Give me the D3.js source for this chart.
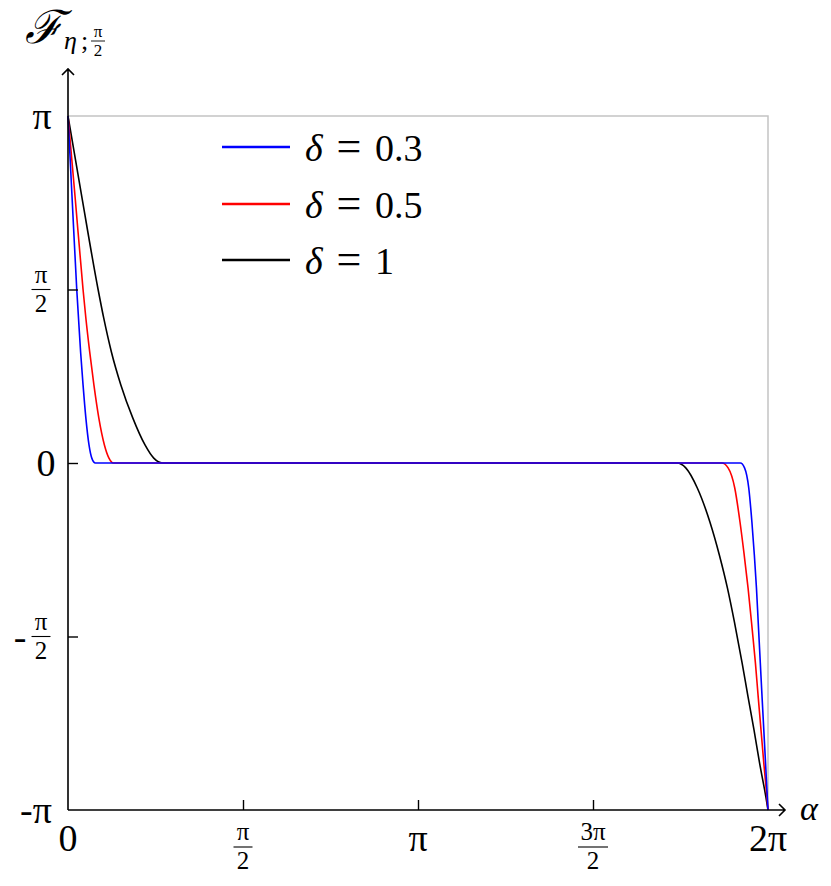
<!DOCTYPE html>
<html>
<head>
<meta charset="utf-8">
<script src="https://cdn.jsdelivr.net/npm/d3@7"></script>
<style>
  body { margin: 0; background: #fff; }
  text { font-family: "Liberation Serif", "DejaVu Serif", serif; fill: #000; }
</style>
</head>
<body>
<svg class="chart"></svg>
<script>
// F_{eta;pi/2} against alpha, three delta values
// alpha and F are both in units of pi

// delta = 0.3
var blueAlpha = [0, 0.012, 0.025, 0.030, 0.036, 0.043, 0.051, 0.060, 0.068, 0.078,
                 1.921, 1.933, 1.945, 1.954, 1.961, 1.967, 1.972, 1.978, 1.983, 1.988, 1.993, 1.998, 2];
var blueValue = [1, 0.758, 0.50, 0.418, 0.320, 0.225, 0.130, 0.052, 0.014, 0,
                 0, -0.014, -0.072, -0.170, -0.265, -0.360, -0.458, -0.576, -0.674, -0.769, -0.865, -0.963, -1];

// delta = 0.5
var redAlpha = [0, 0.021, 0.043, 0.051, 0.062, 0.074, 0.088, 0.104, 0.117, 0.130,
                1.868, 1.886, 1.905, 1.920, 1.932, 1.943, 1.955, 1.964, 1.972, 1.980, 1.988, 1.997, 2];
var redValue = [1, 0.758, 0.50, 0.418, 0.320, 0.225, 0.130, 0.052, 0.014, 0,
                0, -0.014, -0.072, -0.170, -0.265, -0.360, -0.481, -0.576, -0.674, -0.769, -0.865, -0.963, -1];

// delta = 1
var blackAlpha = [0, 0.041, 0.086, 0.102, 0.124, 0.151, 0.185, 0.220, 0.245, 0.270,
                  1.740, 1.765, 1.798, 1.834, 1.861, 1.884, 1.904, 1.926, 1.943, 1.960, 1.976, 1.994, 2];
var blackValue = [1, 0.758, 0.50, 0.418, 0.320, 0.225, 0.130, 0.052, 0.014, 0,
                  0, -0.014, -0.072, -0.170, -0.265, -0.360, -0.458, -0.576, -0.674, -0.769, -0.865, -0.963, -1];

var seriesNames = ["0.3", "0.5", "1"];
var seriesColors = ["#0000ff", "#ff0000", "#000000"];

// tick values (units of pi) and their labels as [whole] or [sign, numerator, denominator]
var xTickValues = [0, 0.5, 1, 1.5, 2];
var xTickLabels = [["0"], ["", "π", "2"], ["π"], ["", "3π", "2"], ["2π"]];
var yTickValues = [-1, -0.5, 0, 0.5, 1];
var yTickLabels = [["-π"], ["-", "π", "2"], ["0"], ["", "π", "2"], ["π"]];

var width = 831, height = 886;

var svg = d3.select(".chart")
    .attr("width", width)
    .attr("height", height);

var x = d3.scaleLinear().domain([0, 2]).range([68, 768]);
var y = d3.scaleLinear().domain([-1, 1]).range([810, 116]);

// grey frame on top and right
svg.append("path")
    .attr("d", "M" + x(0) + "," + y(1) + "H" + x(2) + "V" + y(-1))
    .attr("fill", "none")
    .attr("stroke", "#c4c4c4")
    .attr("stroke-width", 1.5);

// curves
var line = d3.line()
    .x(function(d) { return x(d[0]); })
    .y(function(d) { return y(d[1]); })
    .curve(d3.curveMonotoneX);

var series = [
    d3.zip(blueAlpha, blueValue),
    d3.zip(redAlpha, redValue),
    d3.zip(blackAlpha, blackValue)
];
// black first so blue and red sit on top
[2, 1, 0].forEach(function(i) {
    svg.append("path")
        .datum(series[i])
        .attr("d", line)
        .attr("fill", "none")
        .attr("stroke", seriesColors[i])
        .attr("stroke-width", 1.6);
});

// axes: inward tick marks only, labels drawn by hand (fractions)
var xAxis = d3.axisBottom(x)
    .tickValues(xTickValues.slice(1, 4))
    .tickSize(-10)
    .tickFormat("");
svg.append("g")
    .attr("transform", "translate(0," + y(-1) + ")")
    .call(xAxis)
    .call(function(g) { g.select(".domain").remove(); })
    .selectAll("line").attr("stroke-width", 1.4);

var yAxis = d3.axisLeft(y)
    .tickValues(yTickValues.slice(1, 4))
    .tickSize(-10)
    .tickFormat("");
svg.append("g")
    .attr("transform", "translate(" + x(0) + ",0)")
    .call(yAxis)
    .call(function(g) { g.select(".domain").remove(); })
    .selectAll("line").attr("stroke-width", 1.4);

// axis lines with open arrow heads
svg.append("path")
    .attr("d", "M" + x(0) + "," + y(-1) + "H785 M779,804 L785,810 L779,816")
    .attr("fill", "none").attr("stroke", "#000").attr("stroke-width", 1.6);
svg.append("path")
    .attr("d", "M" + x(0) + "," + y(-1) + "V69 M62,75 L68,69 L74,75")
    .attr("fill", "none").attr("stroke", "#000").attr("stroke-width", 1.6);

// label helper: plain text or fraction
function label(cx, cy, lab, big, small) {
    if (lab.length == 1) {
        svg.append("text")
            .attr("x", cx).attr("y", cy)
            .attr("text-anchor", "middle")
            .attr("dominant-baseline", "central")
            .style("font-size", big + "px")
            .text(lab[0]);
        return;
    }
    var w = lab[1].length > 1 ? 30 : 19;
    svg.append("text")
        .attr("x", cx).attr("y", cy - 7)
        .attr("text-anchor", "middle")
        .style("font-size", small + "px")
        .text(lab[1]);
    svg.append("line")
        .attr("x1", cx - w / 2).attr("x2", cx + w / 2)
        .attr("y1", cy).attr("y2", cy)
        .attr("stroke", "#000").attr("stroke-width", 1.1);
    svg.append("text")
        .attr("x", cx).attr("y", cy + 22)
        .attr("text-anchor", "middle")
        .style("font-size", small + "px")
        .text(lab[2]);
    if (lab[0]) {
        svg.append("text")
            .attr("x", cx - w / 2 - 5).attr("y", cy)
            .attr("text-anchor", "end")
            .attr("dominant-baseline", "central")
            .style("font-size", big + "px")
            .text(lab[0]);
    }
}

xTickValues.forEach(function(v, i) {
    var lab = xTickLabels[i];
    label(x(v), lab.length == 1 ? y(-1) + 28 : y(-1) + 37, lab, 38, 25);
});
yTickValues.forEach(function(v, i) {
    var lab = yTickLabels[i];
    var cx = lab.length == 1 ? (v < 0 ? 36 : (v == 0 ? 46 : 42)) : 41;
    label(cx, y(v), lab, 38, 25);
});

// axis titles
svg.append("text")
    .attr("x", 809).attr("y", 820)
    .attr("text-anchor", "middle")
    .style("font-size", "34px")
    .style("font-style", "italic")
    .text("α");

svg.append("text")
    .attr("x", 25).attr("y", 43)
    .style("font-size", "46px")
    .style("font-family", "DejaVu Serif")
    .style("font-style", "italic")
    .text("ℱ");
svg.append("text")
    .attr("x", 64).attr("y", 49)
    .style("font-size", "26px")
    .style("font-style", "italic")
    .text("η");
svg.append("text")
    .attr("x", 81).attr("y", 49)
    .style("font-size", "26px")
    .text(";");
svg.append("text")
    .attr("x", 98).attr("y", 37)
    .attr("text-anchor", "middle")
    .style("font-size", "17px")
    .text("π");
svg.append("line")
    .attr("x1", 91).attr("x2", 105).attr("y1", 41).attr("y2", 41)
    .attr("stroke", "#000").attr("stroke-width", 0.9);
svg.append("text")
    .attr("x", 98).attr("y", 56)
    .attr("text-anchor", "middle")
    .style("font-size", "17px")
    .text("2");

// legend
var legendY = [147, 204, 260];
seriesNames.forEach(function(name, i) {
    svg.append("line")
        .attr("x1", 222).attr("x2", 290)
        .attr("y1", legendY[i]).attr("y2", legendY[i])
        .attr("stroke", seriesColors[i])
        .attr("stroke-width", 2.4);
    var g = svg.append("g").style("font-size", "38px");
    g.append("text")
        .attr("x", 305).attr("y", legendY[i] + 14)
        .style("font-style", "italic").text("δ");
    g.append("text")
        .attr("x", 349).attr("y", legendY[i] + 14)
        .attr("text-anchor", "middle")
        .style("font-size", "44px")
        .text("=");
    g.append("text")
        .attr("x", 375).attr("y", legendY[i] + 14)
        .text(name);
});
</script>
</body>
</html>
